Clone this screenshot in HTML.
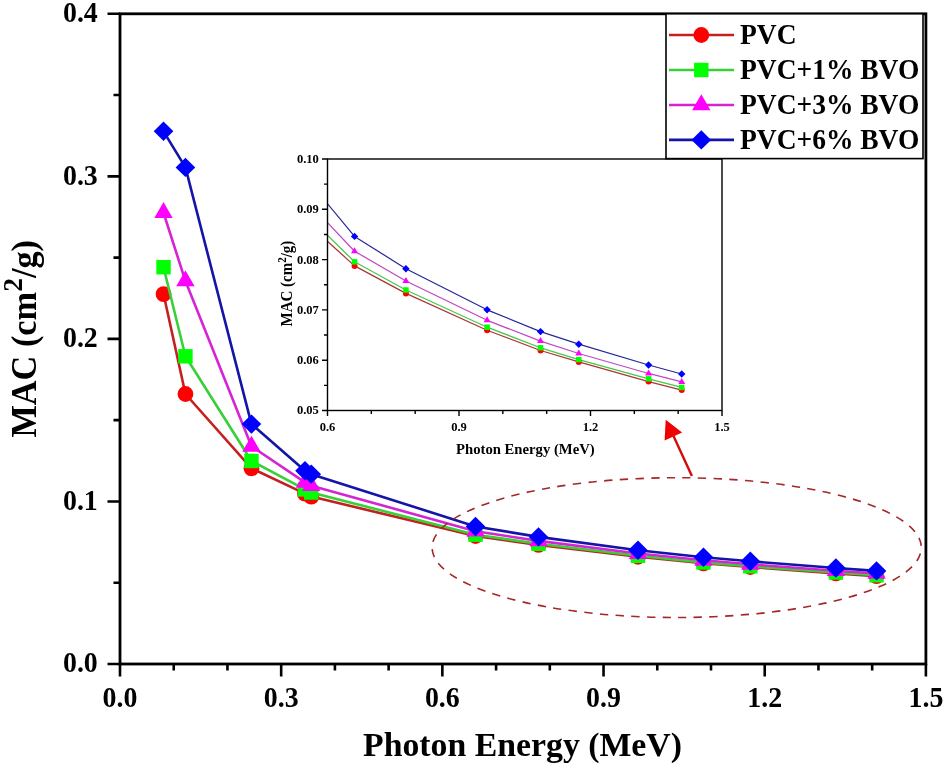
<!DOCTYPE html><html><head><meta charset="utf-8"><style>html,body{margin:0;padding:0;background:#fff;}svg{display:block;will-change:transform;}text{font-family:"Liberation Serif",serif;font-weight:bold;fill:#000;}</style></head><body>
<svg width="944" height="768" viewBox="0 0 944 768">
<rect width="944" height="768" fill="#fff"/>
<polyline points="163.52,294.04 185.44,394.00 251.47,468.29 304.98,493.65 311.27,496.57 475.51,535.99 538.48,544.88 637.98,556.78 703.47,563.33 750.32,567.02 835.91,573.38 876.53,576.13" fill="none" stroke="#c42020" stroke-width="2.6" stroke-linejoin="round"/>
<circle cx="163.52" cy="294.04" r="7.90" fill="#ff0000"/>
<circle cx="185.44" cy="394.00" r="7.90" fill="#ff0000"/>
<circle cx="251.47" cy="468.29" r="7.90" fill="#ff0000"/>
<circle cx="304.98" cy="493.65" r="7.90" fill="#ff0000"/>
<circle cx="311.27" cy="496.57" r="7.90" fill="#ff0000"/>
<circle cx="475.51" cy="535.99" r="7.90" fill="#ff0000"/>
<circle cx="538.48" cy="544.88" r="7.90" fill="#ff0000"/>
<circle cx="637.98" cy="556.78" r="7.90" fill="#ff0000"/>
<circle cx="703.47" cy="563.33" r="7.90" fill="#ff0000"/>
<circle cx="750.32" cy="567.02" r="7.90" fill="#ff0000"/>
<circle cx="835.91" cy="573.38" r="7.90" fill="#ff0000"/>
<circle cx="876.53" cy="576.13" r="7.90" fill="#ff0000"/>
<polyline points="163.52,267.22 185.44,356.29 251.47,460.98 304.98,489.42 311.27,492.51 475.51,534.68 538.48,543.78 637.98,555.81 703.47,562.46 750.32,566.27 835.91,572.48 876.53,575.26" fill="none" stroke="#38d038" stroke-width="2.6" stroke-linejoin="round"/>
<rect x="156.32" y="260.02" width="14.40" height="14.40" fill="#00ff00"/>
<rect x="178.24" y="349.09" width="14.40" height="14.40" fill="#00ff00"/>
<rect x="244.27" y="453.78" width="14.40" height="14.40" fill="#00ff00"/>
<rect x="297.78" y="482.22" width="14.40" height="14.40" fill="#00ff00"/>
<rect x="304.07" y="485.31" width="14.40" height="14.40" fill="#00ff00"/>
<rect x="468.31" y="527.48" width="14.40" height="14.40" fill="#00ff00"/>
<rect x="531.28" y="536.58" width="14.40" height="14.40" fill="#00ff00"/>
<rect x="630.78" y="548.61" width="14.40" height="14.40" fill="#00ff00"/>
<rect x="696.27" y="555.26" width="14.40" height="14.40" fill="#00ff00"/>
<rect x="743.12" y="559.07" width="14.40" height="14.40" fill="#00ff00"/>
<rect x="828.71" y="565.28" width="14.40" height="14.40" fill="#00ff00"/>
<rect x="869.33" y="568.06" width="14.40" height="14.40" fill="#00ff00"/>
<polyline points="163.52,212.76 185.44,281.03 251.47,446.35 304.98,482.43 311.27,485.68 475.51,531.25 538.48,540.87 637.98,553.58 703.47,560.29 750.32,564.31 835.91,570.76 876.53,573.51" fill="none" stroke="#d424d4" stroke-width="2.6" stroke-linejoin="round"/>
<path d="M163.52,202.09L172.72,218.09L154.32,218.09Z" fill="#ff00ff"/>
<path d="M185.44,270.37L194.64,286.37L176.24,286.37Z" fill="#ff00ff"/>
<path d="M251.47,435.68L260.67,451.68L242.27,451.68Z" fill="#ff00ff"/>
<path d="M304.98,471.76L314.18,487.76L295.78,487.76Z" fill="#ff00ff"/>
<path d="M311.27,475.02L320.47,491.02L302.07,491.02Z" fill="#ff00ff"/>
<path d="M475.51,520.58L484.71,536.58L466.31,536.58Z" fill="#ff00ff"/>
<path d="M538.48,530.20L547.68,546.20L529.28,546.20Z" fill="#ff00ff"/>
<path d="M637.98,542.91L647.18,558.91L628.78,558.91Z" fill="#ff00ff"/>
<path d="M703.47,549.63L712.67,565.63L694.27,565.63Z" fill="#ff00ff"/>
<path d="M750.32,553.64L759.52,569.64L741.12,569.64Z" fill="#ff00ff"/>
<path d="M835.91,560.09L845.11,576.09L826.71,576.09Z" fill="#ff00ff"/>
<path d="M876.53,562.84L885.73,578.84L867.33,578.84Z" fill="#ff00ff"/>
<polyline points="163.52,131.32 185.44,167.41 251.47,424.08 304.98,470.73 311.27,474.14 475.51,526.47 538.48,536.90 637.98,550.18 703.47,557.22 750.32,561.30 835.91,568.01 876.53,570.92" fill="none" stroke="#1414a8" stroke-width="2.6" stroke-linejoin="round"/>
<path d="M163.52,121.62L173.32,131.32L163.52,141.02L153.72,131.32Z" fill="#0000ff"/>
<path d="M185.44,157.71L195.24,167.41L185.44,177.11L175.64,167.41Z" fill="#0000ff"/>
<path d="M251.47,414.38L261.27,424.08L251.47,433.78L241.67,424.08Z" fill="#0000ff"/>
<path d="M304.98,461.03L314.78,470.73L304.98,480.43L295.18,470.73Z" fill="#0000ff"/>
<path d="M311.27,464.44L321.07,474.14L311.27,483.84L301.47,474.14Z" fill="#0000ff"/>
<path d="M475.51,516.77L485.31,526.47L475.51,536.17L465.71,526.47Z" fill="#0000ff"/>
<path d="M538.48,527.20L548.28,536.90L538.48,546.60L528.68,536.90Z" fill="#0000ff"/>
<path d="M637.98,540.48L647.78,550.18L637.98,559.88L628.18,550.18Z" fill="#0000ff"/>
<path d="M703.47,547.52L713.27,557.22L703.47,566.92L693.67,557.22Z" fill="#0000ff"/>
<path d="M750.32,551.60L760.12,561.30L750.32,571.00L740.52,561.30Z" fill="#0000ff"/>
<path d="M835.91,558.31L845.71,568.01L835.91,577.71L826.11,568.01Z" fill="#0000ff"/>
<path d="M876.53,561.22L886.33,570.92L876.53,580.62L866.73,570.92Z" fill="#0000ff"/>
<rect x="120.0" y="13.8" width="805.9" height="650.2" fill="none" stroke="#000" stroke-width="2.8"/>
<path d="M120.00,664.00v12.5 M173.73,664.00v6.5 M227.45,664.00v6.5 M281.18,664.00v12.5 M334.91,664.00v6.5 M388.63,664.00v6.5 M442.36,664.00v12.5 M496.09,664.00v6.5 M549.81,664.00v6.5 M603.54,664.00v12.5 M657.27,664.00v6.5 M710.99,664.00v6.5 M764.72,664.00v12.5 M818.45,664.00v6.5 M872.17,664.00v6.5 M925.90,664.00v12.5 M120.00,664.00h-12.5 M120.00,582.73h-6.5 M120.00,501.45h-12.5 M120.00,420.17h-6.5 M120.00,338.90h-12.5 M120.00,257.62h-6.5 M120.00,176.35h-12.5 M120.00,95.07h-6.5 M120.00,13.80h-12.5" stroke="#000" stroke-width="2.6" fill="none"/>
<text transform="translate(120.00,707) scale(1,1.045)" text-anchor="middle" font-size="27.9">0.0</text>
<text transform="translate(281.18,707) scale(1,1.045)" text-anchor="middle" font-size="27.9">0.3</text>
<text transform="translate(442.36,707) scale(1,1.045)" text-anchor="middle" font-size="27.9">0.6</text>
<text transform="translate(603.54,707) scale(1,1.045)" text-anchor="middle" font-size="27.9">0.9</text>
<text transform="translate(764.72,707) scale(1,1.045)" text-anchor="middle" font-size="27.9">1.2</text>
<text transform="translate(925.90,707) scale(1,1.045)" text-anchor="middle" font-size="27.9">1.5</text>
<text transform="translate(97.8,672.30) scale(1,1.045)" text-anchor="end" font-size="27.9">0.0</text>
<text transform="translate(97.8,509.75) scale(1,1.045)" text-anchor="end" font-size="27.9">0.1</text>
<text transform="translate(97.8,347.20) scale(1,1.045)" text-anchor="end" font-size="27.9">0.2</text>
<text transform="translate(97.8,184.65) scale(1,1.045)" text-anchor="end" font-size="27.9">0.3</text>
<text transform="translate(97.8,22.10) scale(1,1.045)" text-anchor="end" font-size="27.9">0.4</text>
<text transform="translate(363,756) scale(1,0.985)" font-size="33.8">Photon Energy (MeV)</text>
<text transform="translate(36.0,437.5) rotate(-90) scale(1,1.02)" font-size="34.3">MAC (cm<tspan font-size="27.5" dy="-14">2</tspan><tspan dy="14">/g)</tspan></text>
<ellipse cx="676.7" cy="547.6" rx="244.6" ry="69.9" fill="none" stroke="#a42828" stroke-width="1.6" stroke-dasharray="8.3 7.36" stroke-dashoffset="9.62"/>
<line x1="691.9" y1="476.1" x2="673.5" y2="436" stroke="#d00c0c" stroke-width="2.4"/>
<path d="M665.7,419.8L682.1,432.6L664.6,440.5Z" fill="#f00000"/>
<defs><clipPath id="ic"><rect x="327.5" y="159" width="394.5" height="251.5"/></clipPath></defs>
<g clip-path="url(#ic)">
<polyline points="100.00,-482.83 117.89,-173.48 171.76,56.39 215.42,134.86 220.55,143.91 354.55,265.89 405.92,293.40 487.10,330.22 540.53,350.49 578.75,361.91 648.58,381.58 681.72,390.08" fill="none" stroke="#a83838" stroke-width="1.25" stroke-linejoin="round"/>
<polyline points="100.00,-565.82 117.89,-290.18 171.76,33.75 215.42,121.78 220.55,131.34 354.55,261.81 405.92,289.98 487.10,327.20 540.53,347.78 578.75,359.60 648.58,378.81 681.72,387.41" fill="none" stroke="#48c848" stroke-width="1.25" stroke-linejoin="round"/>
<polyline points="100.00,-734.33 117.89,-523.07 171.76,-11.52 215.42,100.15 220.55,110.21 354.55,251.20 405.92,280.98 487.10,320.31 540.53,341.09 578.75,353.51 648.58,373.48 681.72,381.98" fill="none" stroke="#c048c0" stroke-width="1.25" stroke-linejoin="round"/>
<polyline points="100.00,-986.33 117.89,-874.67 171.76,-80.43 215.42,63.93 220.55,74.50 354.55,236.41 405.92,268.70 487.10,309.80 540.53,331.58 578.75,344.20 648.58,364.98 681.72,373.98" fill="none" stroke="#282898" stroke-width="1.25" stroke-linejoin="round"/>
</g>
<circle cx="354.55" cy="265.89" r="3.00" fill="#ff0000"/>
<circle cx="405.92" cy="293.40" r="3.00" fill="#ff0000"/>
<circle cx="487.10" cy="330.22" r="3.00" fill="#ff0000"/>
<circle cx="540.53" cy="350.49" r="3.00" fill="#ff0000"/>
<circle cx="578.75" cy="361.91" r="3.00" fill="#ff0000"/>
<circle cx="648.58" cy="381.58" r="3.00" fill="#ff0000"/>
<circle cx="681.72" cy="390.08" r="3.00" fill="#ff0000"/>
<rect x="351.81" y="259.08" width="5.47" height="5.47" fill="#00ff00"/>
<rect x="403.18" y="287.25" width="5.47" height="5.47" fill="#00ff00"/>
<rect x="484.36" y="324.47" width="5.47" height="5.47" fill="#00ff00"/>
<rect x="537.79" y="345.04" width="5.47" height="5.47" fill="#00ff00"/>
<rect x="576.02" y="356.86" width="5.47" height="5.47" fill="#00ff00"/>
<rect x="645.84" y="376.07" width="5.47" height="5.47" fill="#00ff00"/>
<rect x="678.98" y="384.68" width="5.47" height="5.47" fill="#00ff00"/>
<path d="M354.55,247.15L358.04,253.23L351.05,253.23Z" fill="#ff00ff"/>
<path d="M405.92,276.92L409.41,283.00L402.42,283.00Z" fill="#ff00ff"/>
<path d="M487.10,316.26L490.59,322.34L483.60,322.34Z" fill="#ff00ff"/>
<path d="M540.53,337.03L544.03,343.11L537.03,343.11Z" fill="#ff00ff"/>
<path d="M578.75,349.46L582.25,355.54L575.26,355.54Z" fill="#ff00ff"/>
<path d="M648.58,369.43L652.08,375.51L645.08,375.51Z" fill="#ff00ff"/>
<path d="M681.72,377.93L685.21,384.01L678.22,384.01Z" fill="#ff00ff"/>
<path d="M354.55,232.73L358.27,236.41L354.55,240.10L350.82,236.41Z" fill="#0000ff"/>
<path d="M405.92,265.02L409.64,268.70L405.92,272.39L402.19,268.70Z" fill="#0000ff"/>
<path d="M487.10,306.11L490.82,309.80L487.10,313.49L483.37,309.80Z" fill="#0000ff"/>
<path d="M540.53,327.89L544.25,331.58L540.53,335.27L536.81,331.58Z" fill="#0000ff"/>
<path d="M578.75,340.52L582.48,344.20L578.75,347.89L575.03,344.20Z" fill="#0000ff"/>
<path d="M648.58,361.29L652.30,364.98L648.58,368.66L644.86,364.98Z" fill="#0000ff"/>
<path d="M681.72,370.30L685.44,373.98L681.72,377.67L677.99,373.98Z" fill="#0000ff"/>
<rect x="327.5" y="159.0" width="394.5" height="251.5" fill="none" stroke="#000" stroke-width="1.4"/>
<path d="M327.50,410.50v5.5 M371.33,410.50v3.5 M415.17,410.50v3.5 M459.00,410.50v5.5 M502.83,410.50v3.5 M546.67,410.50v3.5 M590.50,410.50v5.5 M634.33,410.50v3.5 M678.17,410.50v3.5 M722.00,410.50v5.5 M327.50,410.50h-5.5 M327.50,385.35h-3.5 M327.50,360.20h-5.5 M327.50,335.05h-3.5 M327.50,309.90h-5.5 M327.50,284.75h-3.5 M327.50,259.60h-5.5 M327.50,234.45h-3.5 M327.50,209.30h-5.5 M327.50,184.15h-3.5 M327.50,159.00h-5.5" stroke="#000" stroke-width="1.4" fill="none"/>
<text transform="translate(327.50,430.6)" text-anchor="middle" font-size="12.5">0.6</text>
<text transform="translate(459.00,430.6)" text-anchor="middle" font-size="12.5">0.9</text>
<text transform="translate(590.50,430.6)" text-anchor="middle" font-size="12.5">1.2</text>
<text transform="translate(722.00,430.6)" text-anchor="middle" font-size="12.5">1.5</text>
<text transform="translate(318.8,414.40)" text-anchor="end" font-size="12.5">0.05</text>
<text transform="translate(318.8,364.10)" text-anchor="end" font-size="12.5">0.06</text>
<text transform="translate(318.8,313.80)" text-anchor="end" font-size="12.5">0.07</text>
<text transform="translate(318.8,263.50)" text-anchor="end" font-size="12.5">0.08</text>
<text transform="translate(318.8,213.20)" text-anchor="end" font-size="12.5">0.09</text>
<text transform="translate(318.8,162.90)" text-anchor="end" font-size="12.5">0.10</text>
<text transform="translate(456,454.2) scale(1,1.05)" font-size="14.7">Photon Energy (MeV)</text>
<text transform="translate(292.3,326.5) rotate(-90) scale(1,1.1)" font-size="15">MAC (cm<tspan font-size="11" dy="-5.5">2</tspan><tspan dy="5.5">/g)</tspan></text>
<rect x="666" y="13.8" width="257" height="144.8" fill="#fff" stroke="#000" stroke-width="1.6"/>
<line x1="669" y1="35.00" x2="734" y2="35.00" stroke="#c42020" stroke-width="2.6"/>
<circle cx="701.30" cy="35.00" r="7.90" fill="#ff0000"/>
<text transform="translate(740,43.80) scale(1,1.06)" font-size="27.5">PVC</text>
<line x1="669" y1="69.97" x2="734" y2="69.97" stroke="#38d038" stroke-width="2.6"/>
<rect x="694.10" y="62.77" width="14.40" height="14.40" fill="#00ff00"/>
<text transform="translate(740,78.80) scale(1,1.06)" font-size="27.5">PVC+1% BVO</text>
<line x1="669" y1="104.94" x2="734" y2="104.94" stroke="#d424d4" stroke-width="2.6"/>
<path d="M701.30,94.27L710.50,110.27L692.10,110.27Z" fill="#ff00ff"/>
<text transform="translate(740,113.80) scale(1,1.06)" font-size="27.5">PVC+3% BVO</text>
<line x1="669" y1="139.91" x2="734" y2="139.91" stroke="#1414a8" stroke-width="2.6"/>
<path d="M701.30,130.21L711.10,139.91L701.30,149.61L691.50,139.91Z" fill="#0000ff"/>
<text transform="translate(740,148.80) scale(1,1.06)" font-size="27.5">PVC+6% BVO</text>
</svg></body></html>
